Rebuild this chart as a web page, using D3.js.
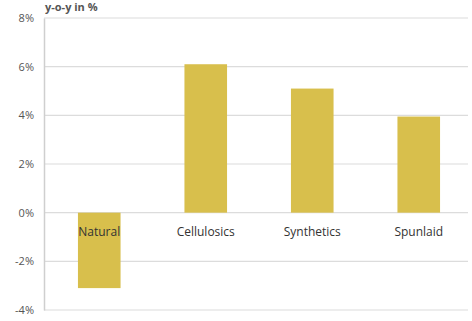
<!DOCTYPE html>
<html>
<head>
<meta charset="utf-8">
<script src="https://cdn.jsdelivr.net/npm/d3@7"></script>
<style>
  body { margin: 0; background: #fff; }
  text { font-family: "Open Sans", "DejaVu Sans", sans-serif; }
</style>
</head>
<body>
<div id="chart"></div>
<script>
/* DATA */
const categories = ["Natural", "Cellulosics", "Synthetics", "Spunlaid"];
const values = [-3.1, 6.1, 5.1, 3.95];
const yTicks = [-4, -2, 0, 2, 4, 6, 8];

/* CONSTANTS */
const width = 472,
  height = 321,
  margin = { top: 18, right: 4, bottom: 11, left: 44 };

const svg = d3.select("#chart")
  .append("svg")
  .attr("width", width)
  .attr("height", height);

// scales
const xScale = d3.scaleBand()
  .domain(categories)
  .range([margin.left + 2, width])
  .paddingInner(0.6)
  .paddingOuter(0.3);

const yScale = d3.scaleLinear()
  .domain([-4, 8])
  .range([height - margin.bottom, margin.top]);

// gridlines
svg.append("g")
  .selectAll("line")
  .data(yTicks)
  .join("line")
  .attr("x1", margin.left)
  .attr("x2", width - margin.right)
  .attr("y1", d => yScale(d))
  .attr("y2", d => yScale(d))
  .attr("stroke", "#dcdcdc")
  .attr("stroke-width", 1.2);

// y axis
const yAxis = d3.axisLeft(yScale)
  .tickValues(yTicks)
  .tickSize(0)
  .tickPadding(10)
  .tickFormat(d => d + "%");

svg.append("g")
  .attr("transform", `translate(${margin.left},0)`)
  .call(yAxis)
  .call(g => g.select(".domain").attr("stroke", "#cfcfcf").attr("stroke-width", 1.5))
  .call(g => g.selectAll("text")
    .attr("fill", "#555")
    .attr("font-size", 11)
    .attr("font-family", "'Open Sans', sans-serif"));

// bars
svg.append("g")
  .selectAll("rect")
  .data(values)
  .join("rect")
  .attr("x", (d, i) => xScale(categories[i]))
  .attr("width", xScale.bandwidth())
  .attr("y", d => yScale(Math.max(0, d)))
  .attr("height", d => Math.abs(yScale(d) - yScale(0)))
  .attr("fill", "#d8bf4c");

// category labels
svg.append("g")
  .selectAll("text")
  .data(categories)
  .join("text")
  .attr("x", d => xScale(d) + xScale.bandwidth() / 2)
  .attr("y", yScale(0) + 23)
  .attr("text-anchor", "middle")
  .attr("font-size", 12)
  .attr("fill", "#333")
  .text(d => d);

// unit title
svg.append("text")
  .attr("x", margin.left + 1)
  .attr("y", 11)
  .attr("font-size", 11)
  .attr("font-weight", "bold")
  .attr("fill", "#555")
  .text("y-o-y in %");
</script>
</body>
</html>
